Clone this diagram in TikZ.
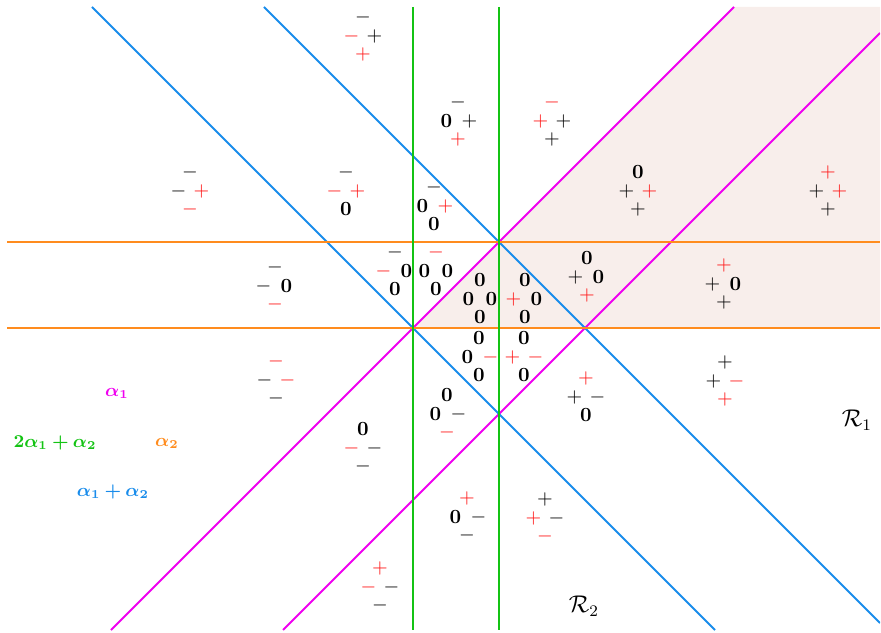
\documentclass[tikz,border=0pt]{standalone}
\usepackage{amsmath}
\usepackage{bm}
\definecolor{cmag}{RGB}{240,0,240}
\definecolor{cgreen}{RGB}{20,195,20}
\definecolor{corange}{RGB}{255,140,30}
\definecolor{cblue}{RGB}{25,140,235}
\definecolor{cred}{RGB}{255,20,20}
\definecolor{cshade}{RGB}{248,238,235}
\newcommand\sgRp{\textcolor{cred}{$+$}}
\newcommand\sgRm{\textcolor{cred}{$-$}}
\newcommand\sgBp{$+$}
\newcommand\sgBm{$-$}
\newcommand\sgZo{$\mathbf{0}$}
\newcommand\sgclus[6]{%
  \begin{scope}[shift={(#2)}]
    \node[sym] (#1t) at (0,-18.5) {#3};
    \node[sym] (#1l) at (-11.5,0) {#4};
    \node[sym] (#1r) at (11.5,0) {#5};
    \node[sym] (#1b) at (0,18.5) {#6};
  \end{scope}}
\begin{document}
\begin{tikzpicture}[x=0.017442cm,y=-0.017442cm,
  sym/.style={inner sep=0pt,anchor=center,font=\fontsize{10}{12}\selectfont},
  ln/.style={line width=1pt},
  lab/.style={inner sep=0pt,anchor=center,font=\fontsize{9}{11}\selectfont},
  rlab/.style={inner sep=0pt,anchor=center,font=\fontsize{11.5}{13}\selectfont}]
\useasboundingbox (0,0) rectangle (881,633);
\fill[cshade] (413,328) -- (734,7) -- (880,7) -- (880,328) -- cycle;
\begin{scope}
\clip (7,7) rectangle (880,630);
\draw[ln,cmag] (111,630) -- (734,7);
\draw[ln,cmag] (283,630) -- (880,33);
\draw[ln,cblue] (92,7) -- (715,630);
\draw[ln,cblue] (264,7) -- (880,623);
\draw[ln,corange] (7,242) -- (880,242);
\draw[ln,corange] (7,328) -- (880,328);
\draw[ln,cgreen] (413,7) -- (413,630);
\draw[ln,cgreen] (499,7) -- (499,630);
\end{scope}
\sgclus{a}{363,36}{\sgBm}{\sgRm}{\sgBp}{\sgRp}
\sgclus{b}{458,121}{\sgBm}{\sgZo}{\sgBp}{\sgRp}
\sgclus{c}{552,121}{\sgRm}{\sgRp}{\sgBp}{\sgBp}
\sgclus{d}{190,191}{\sgBm}{\sgBm}{\sgRp}{\sgRm}
\sgclus{e}{346,191}{\sgBm}{\sgRm}{\sgRp}{\sgZo}
\sgclus{f}{434,206}{\sgBm}{\sgZo}{\sgRp}{\sgZo}
\sgclus{g}{638,191}{\sgZo}{\sgBp}{\sgRp}{\sgBp}
\sgclus{h}{828,191}{\sgRp}{\sgBp}{\sgRp}{\sgBp}
\sgclus{i}{275,286}{\sgBm}{\sgBm}{\sgZo}{\sgRm}
\sgclus{j}{395,271}{\sgBm}{\sgRm}{\sgZo}{\sgZo}
\sgclus{k}{436,271}{\sgRm}{\sgZo}{\sgZo}{\sgZo}
\sgclus{l}{480,299}{\sgZo}{\sgZo}{\sgZo}{\sgZo}
\sgclus{m}{525,299}{\sgZo}{\sgRp}{\sgZo}{\sgZo}
\sgclus{n}{587,277}{\sgZo}{\sgBp}{\sgZo}{\sgRp}
\sgclus{o}{724,284}{\sgRp}{\sgBp}{\sgZo}{\sgBp}
\sgclus{p}{479,357}{\sgZo}{\sgZo}{\sgRm}{\sgZo}
\sgclus{q}{524,357}{\sgZo}{\sgRp}{\sgRm}{\sgZo}
\sgclus{r}{276,380}{\sgRm}{\sgBm}{\sgRm}{\sgBm}
\sgclus{s}{447,414}{\sgZo}{\sgZo}{\sgBm}{\sgRm}
\sgclus{t}{586,397}{\sgRp}{\sgBp}{\sgBm}{\sgZo}
\sgclus{u}{725,381}{\sgBp}{\sgBp}{\sgRm}{\sgRp}
\sgclus{v}{363,448}{\sgZo}{\sgRm}{\sgBm}{\sgBm}
\sgclus{w}{467,517}{\sgRp}{\sgZo}{\sgBm}{\sgBm}
\sgclus{x}{545,518}{\sgBp}{\sgRp}{\sgBm}{\sgRm}
\sgclus{y}{380,587}{\sgRp}{\sgRm}{\sgBm}{\sgBm}
\node[rlab] (R1) at (857,420) {$\mathcal{R}_1$};
\node[rlab] (R2) at (584,606) {$\mathcal{R}_2$};
\node[lab,text=cmag] (A1) at (117,393) {$\bm{\alpha_1}$};
\node[lab,text=cgreen] (A3) at (55,443) {$\bm{2\alpha_1+\alpha_2}$};
\node[lab,text=corange] (A2) at (167,443) {$\bm{\alpha_2}$};
\node[lab,text=cblue] (A4) at (113,492) {$\bm{\alpha_1+\alpha_2}$};
\end{tikzpicture}
\end{document}
